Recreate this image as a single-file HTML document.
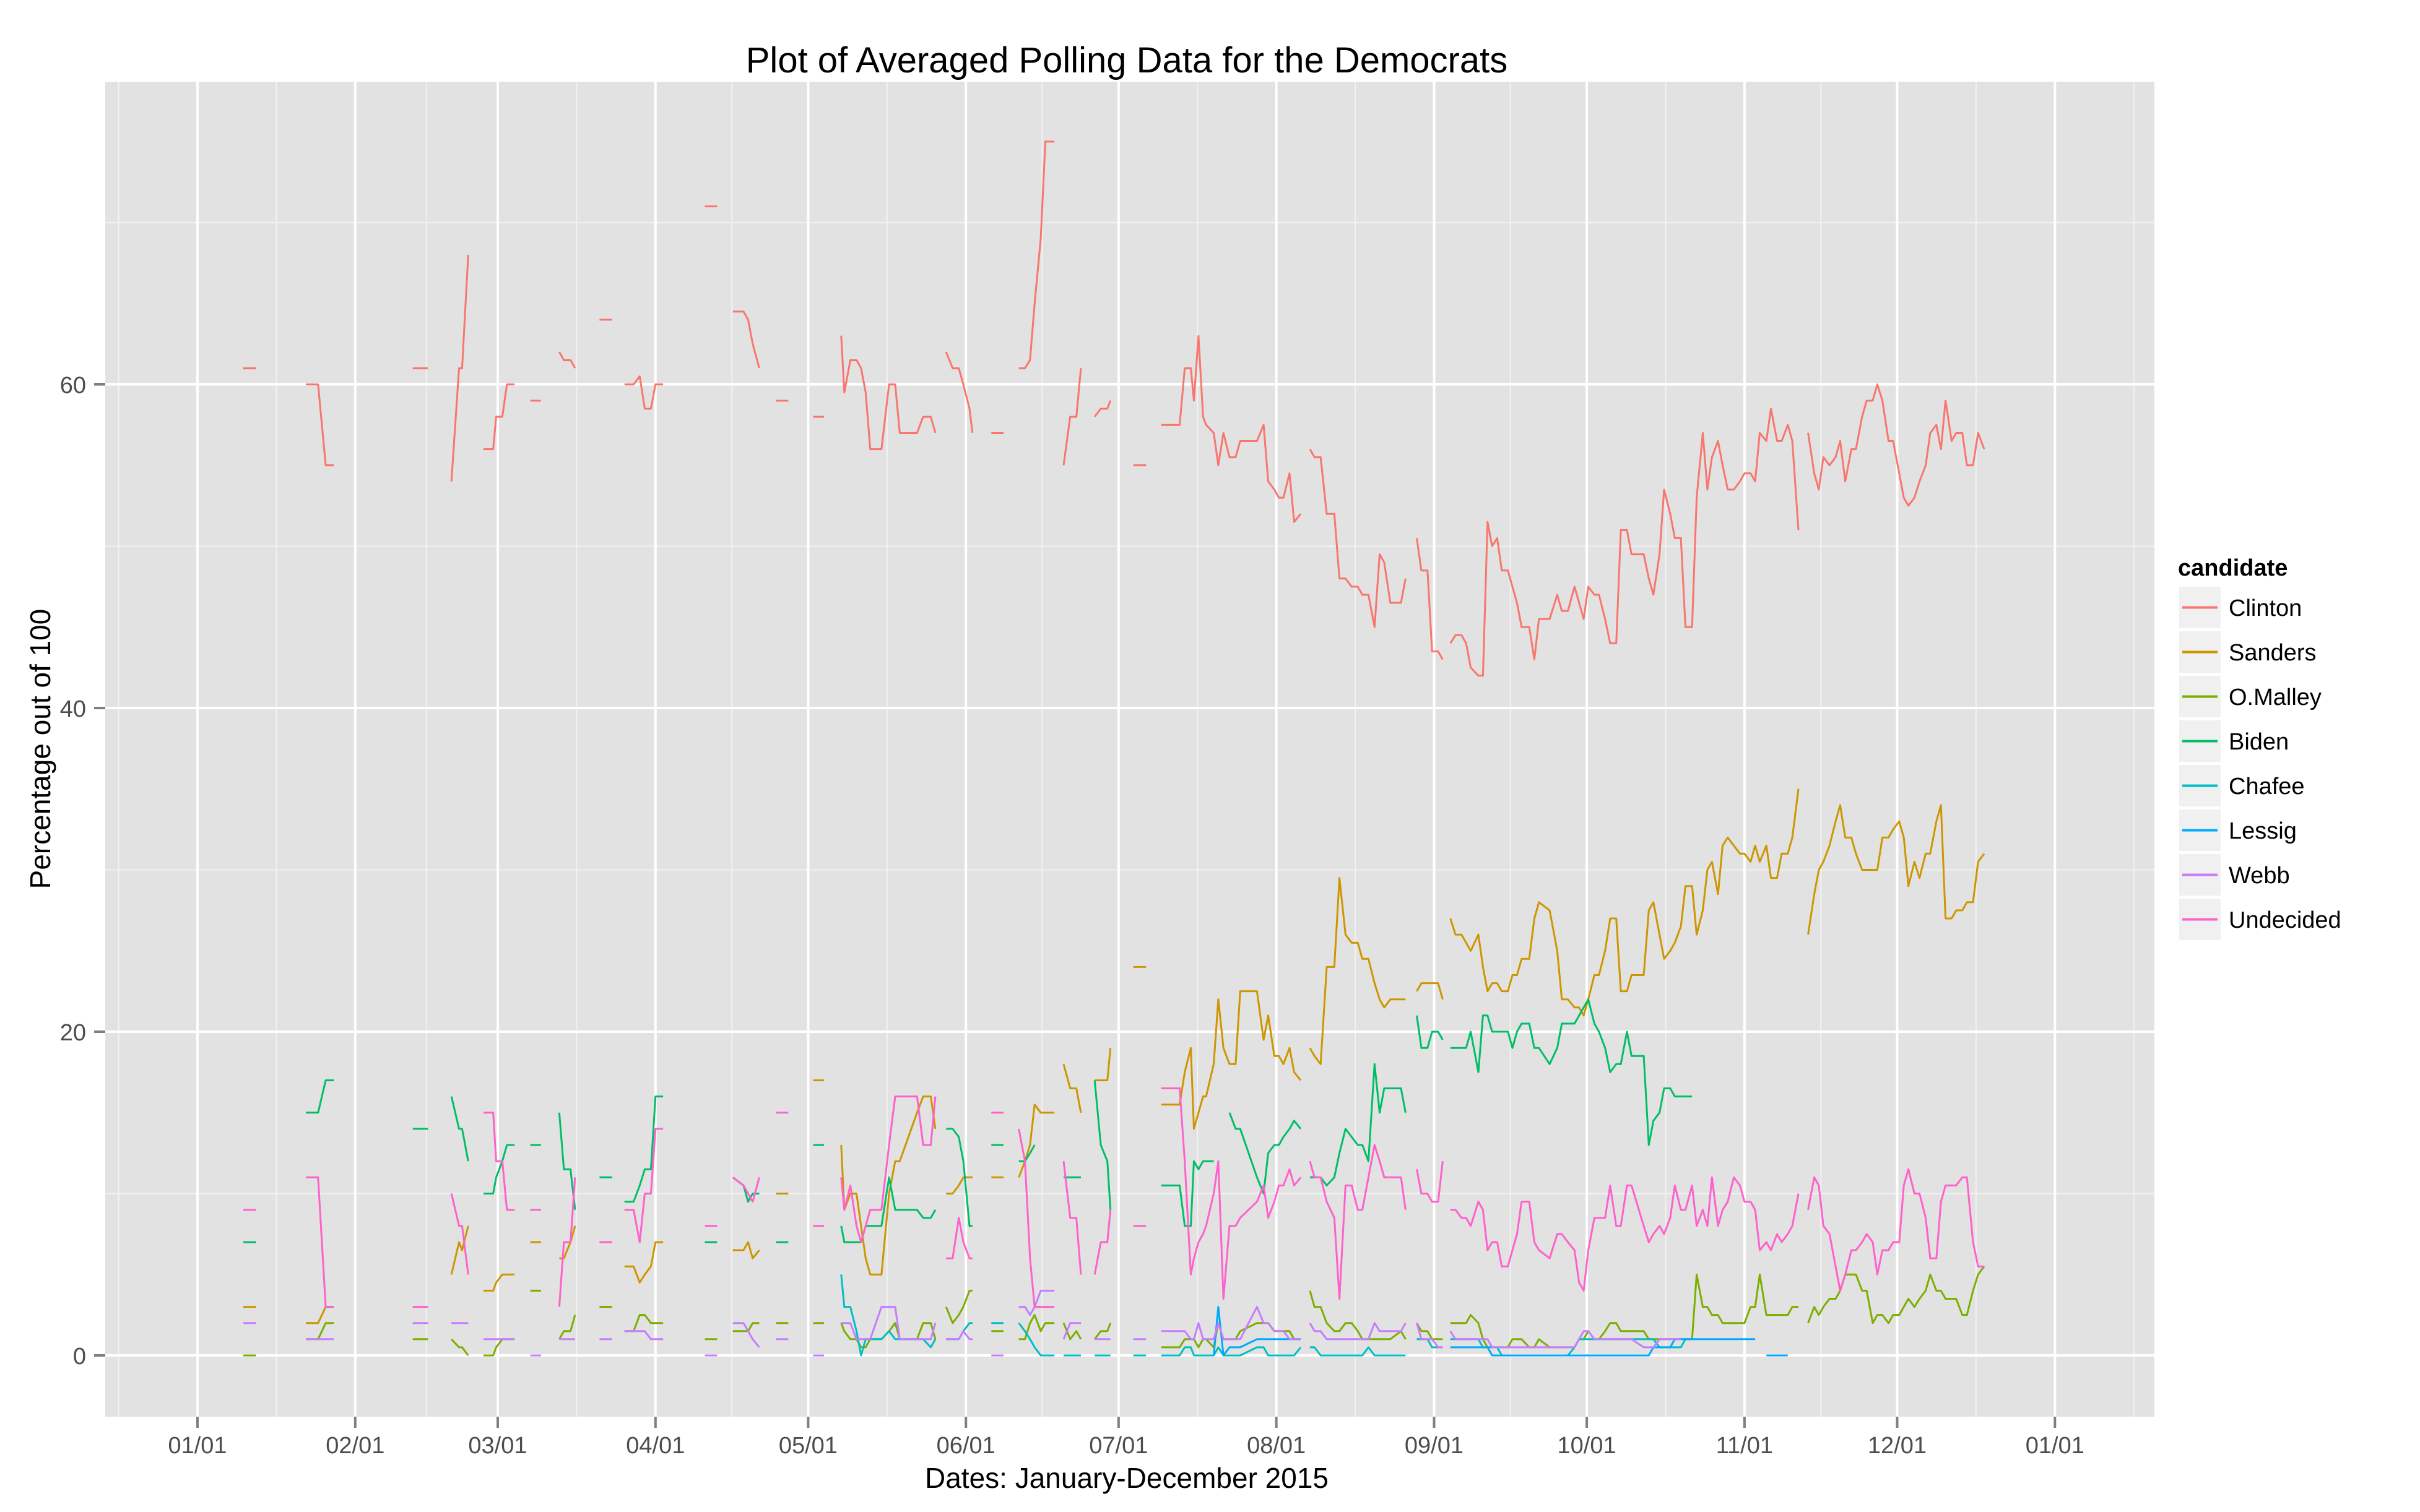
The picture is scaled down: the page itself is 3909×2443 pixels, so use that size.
<!DOCTYPE html>
<html><head><meta charset="utf-8">
<style>
html,body{margin:0;padding:0;background:#fff;}
svg{display:block;font-family:"Liberation Sans",Arial,sans-serif;}
</style></head>
<body>
<svg id="chart" width="3909" height="2443" viewBox="0 0 3909 2443" xmlns="http://www.w3.org/2000/svg">
  <rect x="0" y="0" width="3909" height="2443" fill="#ffffff"/>
  <rect x="170" y="132" width="3310" height="2157" fill="#e2e2e2"/>
  <g id="grid"></g>
  <g id="series"></g>
  <g id="axes"></g>
  <text x="1820" y="117" font-size="58" text-anchor="middle" fill="#000">Plot of Averaged Polling Data for the Democrats</text>
  <text x="1820" y="2404" font-size="46" text-anchor="middle" fill="#000">Dates: January-December 2015</text>
  <text transform="translate(81,1210) rotate(-90)" font-size="46" text-anchor="middle" fill="#000">Percentage out of 100</text>
  <g id="legend"></g>
</svg>
<script>
// ---------- data ----------
const candidates = ["Clinton","Sanders","O.Malley","Biden","Chafee","Lessig","Webb","Undecided"];
const colors = ["#F8766D","#CD9600","#7CAE00","#00BE67","#00BFC4","#00A9FF","#C77CFF","#FF61CC"];
const xTickLabels = ["01/01","02/01","03/01","04/01","05/01","06/01","07/01","08/01","09/01","10/01","11/01","12/01","01/01"];
const xTickDays = [0,31,59,90,120,151,181,212,243,273,304,334,365];
const yTicks = [0,20,40,60];
const yMinor = [10,30,50,70];

// days since 2015-01-01 (null = gap)
const earlyDays = [9,11.5,null,21.3,23.7,25.2,26.8,null,42.3,45.3,null,49.9,51.4,52,53.2,null,56.2,58.1,58.7,59.9,60.8,62.3,null,65.4,67.5,null,71.1,72,73.3,74.2,null,79,81.5,null,83.9,85.7,86.9,87.9,89.1,90,91.5,null,99.7,102.1,null,105.2,107.3,108.2,109.1,110.4,null,113.7,116.1,null,121,123.1,null,126.5,127.1,128.3,129.5,130.4,131.3,132.2,134.4,135.9,137.1,138,141.4,142.6,144.1,145,null,147.1,148.4,149.6,150.5,151.7,152.3,null,156,158.4,null,161.4,162.6,163.6,164.5,165.7,166.6,168.4,null,170.2,171.5,172.7,173.6,null,176.3,177.5,178.8,179.4,null,183.9,186.4];
const julDays = [189.4,193,194,195.2,195.8,196.7,197.6,198.2,199.7,200.6,201.6,202.8,204,204.9,208.2,209.5,210.4,211.6,212.5,213.4,214.6,215.5,216.8];
const augDays = [218.6,219.5,220.7,221.9,223.4,224.4,225.6,226.8,228,228.9,230.1,231.3,232.3,233.2,234.4,236.5,237.4];
const lateAugDays = [239.6,240.5,241.7,242.6,243.8,244.7];
const fallDays = [246.2,247.2,248.4,249.3,250.2,251.7,252.6,253.5,254.4,255.4,256.3,257.5,258.4,259.3,260.2,261.7,262.7,263.6,265.7,267.2,268.1,269.3,270.6,271.5,272.4,273.3,274.5,275.4,276.6,277.6,278.8,279.7,280.9,281.8,284.2,285.2,286.1,287.3,288.2,289.4,290.3,291.5,292.4,293.7,294.6,295.8,296.7,297.6,298.8,299.7,300.7,301.9,303.1,304,305.2,306.1,307,308.3,309.2,310.4,311.3,312.5,313.4,314.6];
const novDays = [316.5,317.7,318.6,319.5,320.7,321.9,322.8,323.8,325,325.9,327.1,328,329.2,330.1,331.1,332.3,333.2,334.4,335.3,336.2,337.4,338.4,339.6,340.5,341.7,342.6,343.5,344.7,345.6,346.8,347.7,348.9,349.9,351.1];

// Clinton
const clintonEarly = [61,61,null,60,60,55,55,null,61,61,null,54,61,61,68,null,56,56,58,58,60,60,null,59,59,null,62,61.5,61.5,61,null,64,64,null,60,60,60.5,58.5,58.5,60,60,null,71,71,null,64.5,64.5,64,62.5,61,null,59,59,null,58,58,null,63,59.5,61.5,61.5,61,59.5,56,56,60,60,57,57,58,58,57,null,62,61,61,60,58.5,57,null,57,57,null,61,61,61.5,65,69,75,75,null,55,58,58,61,null,58,58.5,58.5,59,null,55,55];
const clintonJul = [57.5,57.5,61,61,59,63,58,57.5,57,55,57,55.5,55.5,56.5,56.5,57.5,54,53.5,53,53,54.5,51.5,52];
const clintonAug = [56,55.5,55.5,52,52,48,48,47.5,47.5,47,47,45,49.5,49,46.5,46.5,48];
const clintonLateAug = [50.5,48.5,48.5,43.5,43.5,43];
const clintonFall = [44,44.5,44.5,44,42.5,42,42,51.5,50,50.5,48.5,48.5,47.5,46.5,45,45,43,45.5,45.5,47,46,46,47.5,46.5,45.5,47.5,47,47,45.5,44,44,51,51,49.5,49.5,48,47,49.5,53.5,52,50.5,50.5,45,45,53,57,53.5,55.5,56.5,55,53.5,53.5,54,54.5,54.5,54,57,56.5,58.5,56.5,56.5,57.5,56.5,51];
const clintonNov = [57,54.5,53.5,55.5,55,55.5,56.5,54,56,56,58,59,59,60,59,56.5,56.5,54.5,53,52.5,53,54,55,57,57.5,56,59,56.5,57,57,55,55,57,56];

// Sanders
const sandersEarly = [3,3,null,2,2,3,3,null,null,null,null,5,7,6.5,8,null,4,4,4.5,5,5,5,null,7,7,null,6,6,7,8,null,null,null,null,5.5,5.5,4.5,5,5.5,7,7,null,null,null,null,6.5,6.5,7,6,6.5,null,10,10,null,17,17,null,13,9,10,10,8,6,5,5,10,12,12,15,16,16,14,null,10,10,10.5,11,11,11,null,11,11,null,11,12,13,15.5,15,15,15,null,18,16.5,16.5,15,null,17,17,17,19,null,24,24];
const sandersJul = [15.5,15.5,17.5,19,14,15,16,16,18,22,19,18,18,22.5,22.5,19.5,21,18.5,18.5,18,19,17.5,17];
const sandersAug = [19,18.5,18,24,24,29.5,26,25.5,25.5,24.5,24.5,23,22,21.5,22,22,22];
const sandersLateAug = [22.5,23,23,23,23,22];
const sandersFall = [27,26,26,25.5,25,26,24,22.5,23,23,22.5,22.5,23.5,23.5,24.5,24.5,27,28,27.5,25,22,22,21.5,21.5,21,22,23.5,23.5,25,27,27,22.5,22.5,23.5,23.5,27.5,28,26,24.5,25,25.5,26.5,29,29,26,27.5,30,30.5,28.5,31.5,32,31.5,31,31,30.5,31.5,30.5,31.5,29.5,29.5,31,31,32,35];
const sandersNov = [26,28.5,30,30.5,31.5,33,34,32,32,31,30,30,30,30,32,32,32.5,33,32,29,30.5,29.5,31,31,33,34,27,27,27.5,27.5,28,28,30.5,31];

// O'Malley
const omalleyEarly = [0,0,null,1,1,2,2,null,1,1,null,1,0.5,0.5,0,null,0,0,0.5,1,1,1,null,4,4,null,1,1.5,1.5,2.5,null,3,3,null,1.5,1.5,2.5,2.5,2,2,2,null,1,1,null,1.5,1.5,1.5,2,2,null,2,2,null,2,2,null,2,1.5,1,1,0.5,0.5,1,1,1.5,2,1,1,2,2,1,null,3,2,2.5,3,4,4,null,1.5,1.5,null,1,1,2,2.5,1.5,2,2,null,2,1,1.5,1,null,1,1.5,1.5,2,null,null,null];
const omalleyJul = [0.5,0.5,1,1,1,0.5,1,1,0.5,2,1,1,1,1.5,2,2,2,1.5,1.5,1.5,1.5,1,1];
const omalleyAug = [4,3,3,2,1.5,1.5,2,2,1.5,1,1,1,1,1,1,1.5,1];
const omalleyLateAug = [2,1.5,1.5,1,1,1];
const omalleyFall = [2,2,2,2,2.5,2,1,0.5,0.5,0.5,0.5,0.5,1,1,1,0.5,0.5,1,0.5,0.5,0.5,0.5,0.5,1,1,1.5,1,1,1.5,2,2,1.5,1.5,1.5,1.5,1,1,1,1,1,1,1,1,1,5,3,3,2.5,2.5,2,2,2,2,2,3,3,5,2.5,2.5,2.5,2.5,2.5,3,3];
const omalleyNov = [2,3,2.5,3,3.5,3.5,4,5,5,5,4,4,2,2.5,2.5,2,2.5,2.5,3,3.5,3,3.5,4,5,4,4,3.5,3.5,3.5,2.5,2.5,4,5,5.5];

// Biden
const bidenEarly = [7,7,null,15,15,17,17,null,14,14,null,16,14,14,12,null,10,10,11,12,13,13,null,13,13,null,15,11.5,11.5,9,null,11,11,null,9.5,9.5,10.5,11.5,11.5,16,16,null,7,7,null,11,10.5,9.5,10,10,null,7,7,null,13,13,null,8,7,7,7,7,8,8,8,11,9,9,9,8.5,8.5,9,null,14,14,13.5,12,8,8,null,13,13,null,12,12,12.5,13,null,null,null,null,11,11,11,11,null,17,13,12,9,null,null,null];
const bidenJul = [10.5,10.5,8,8,12,11.5,12,12,12,null,null,15,14,14,11,10,12.5,13,13,13.5,14,14.5,14];
const bidenAug = [11,11,11,10.5,11,12.5,14,13.5,13,13,12,18,15,16.5,16.5,16.5,15];
const bidenLateAug = [21,19,19,20,20,19.5];
const bidenFall = [19,19,19,19,20,17.5,21,21,20,20,20,20,19,20,20.5,20.5,19,19,18,19,20.5,20.5,20.5,21,21.5,22,20.5,20,19,17.5,18,18,20,18.5,18.5,13,14.5,15,16.5,16.5,16,16,16,16,null,null,null,null,null,null,null,null,null,null,null,null,null,null,null,null,null,null,null,null];
const bidenNov = null;

// Chafee
const chafeeEarly = [null,null,null,null,null,null,null,null,null,null,null,null,null,null,null,null,null,null,null,null,null,null,null,null,null,null,null,null,null,null,null,null,null,null,null,null,null,null,null,null,null,null,null,null,null,null,null,null,null,null,null,null,null,null,null,null,null,5,3,3,1.5,0,1,1,1,1.5,1,1,1,1,0.5,1,null,1,1,1,1.5,2,2,null,2,2,null,2,1.5,1,0.5,0,0,0,null,0,0,0,0,null,0,0,0,0,null,0,0];
const chafeeJul = [0,0,0.5,0.5,0,0,0,0,0,0.5,0,0,0,0,0.5,0.5,0,0,0,0,0,0,0.5];
const chafeeAug = [0.5,0.5,0,0,0,0,0,0,0,0,0.5,0,0,0,0,0,0];
const chafeeLateAug = [1,1,1,0.5,0.5,0.5];
const chafeeFall = [1,1,1,1,1,1,0.5,0.5,0.5,0.5,0,0,0,0,0,0,0,0,0,0,0,0,0.5,1,1,1,1,1,1,1,1,1,1,1,1,1,1,0.5,0.5,0.5,0.5,0.5,1,1,null,null,null,null,null,null,null,null,null,null,null,null,null,null,null,null,null,null,null,null];
const chafeeNov = null;

// Lessig
const lessigEarly = null;
const lessigJul = [null,null,null,null,null,null,null,null,0,3,0,0.5,0.5,0.5,1,1,1,1,1,1,1,1,1];
const lessigAug = null;
const lessigLateAug = null;
const lessigFall = [0.5,0.5,0.5,0.5,0.5,0.5,0.5,0.5,0,0,0,0,0,0,0,0,0,0,0,0,0,0,0,0,0,0,0,0,0,0,0,0,0,0,0,0,0.5,0.5,0.5,0.5,1,1,1,1,1,1,1,1,1,1,1,1,1,1,1,1,null,0,0,0,0,0,null,null];
const lessigNov = null;

// Webb
const webbEarly = [2,2,null,1,1,1,1,null,2,2,null,2,2,2,2,null,1,1,1,1,1,1,null,0,0,null,1,1,1,1,null,1,1,null,1.5,1.5,1.5,1.5,1,1,1,null,0,0,null,2,2,1.5,1,0.5,null,1,1,null,0,0,null,2,2,2,1,1,1,1,3,3,3,1,1,1,1,2,null,1,1,1,1.5,1,1,null,0,0,null,3,3,2.5,3,4,4,4,null,1,2,2,2,null,1,1,1,1,null,1,1];
const webbJul = [1.5,1.5,1.5,1,1,2,1,1,1,2,1,1,1,1,3,2,2,1.5,1.5,1.5,1,1,1];
const webbAug = [2,1.5,1.5,1,1,1,1,1,1,1,1,2,1.5,1.5,1.5,1.5,2];
const webbLateAug = [2,1,1,1,0.5,0.5];
const webbFall = [1.5,1,1,1,1,1,1,1,0.5,0.5,0.5,0.5,0.5,0.5,0.5,0.5,0.5,0.5,0.5,0.5,0.5,0.5,0.5,1,1.5,1.5,1,1,1,1,1,1,1,1,0.5,0.5,0.5,1,1,1,1,1,null,null,null,null,null,null,null,null,null,null,null,null,null,null,null,null,null,null,null,null,null,null];
const webbNov = null;

// Undecided
const undecidedEarly = [9,9,null,11,11,3,3,null,3,3,null,10,8,8,5,null,15,15,12,12,9,9,null,9,9,null,3,7,7,11,null,7,7,null,9,9,7,10,10,14,14,null,8,8,null,11,10.5,10,9.5,11,null,15,15,null,8,8,null,11,9,10.5,8,7,8,9,9,13,16,16,16,13,13,16,null,6,6,8.5,7,6,6,null,15,15,null,14,12,6,3,3,3,3,null,12,8.5,8.5,5,null,5,7,7,9,null,8,8];
const undecidedJul = [16.5,16.5,12,5,6,7,7.5,8,10,12,3.5,8,8,8.5,9.5,10.5,8.5,9.5,10.5,10.5,11.5,10.5,11];
const undecidedAug = [12,11,11,9.5,8.5,3.5,10.5,10.5,9,9,11,13,12,11,11,11,9];
const undecidedLateAug = [11.5,10,10,9.5,9.5,12];
const undecidedFall = [9,9,8.5,8.5,8,9.5,9,6.5,7,7,5.5,5.5,6.5,7.5,9.5,9.5,7,6.5,6,7.5,7.5,7,6.5,4.5,4,6.5,8.5,8.5,8.5,10.5,8,8,10.5,10.5,8,7,7.5,8,7.5,8.5,10.5,9,9,10.5,8,9,8,11,8,9,9.5,11,10.5,9.5,9.5,9,6.5,7,6.5,7.5,7,7.5,8,10];
const undecidedNov = [9,11,10.5,8,7.5,5.5,4,5,6.5,6.5,7,7.5,7,5,6.5,6.5,7,7,10.5,11.5,10,10,8.5,6,6,9.5,10.5,10.5,10.5,11,11,7,5.5,5.5];

const dayGroups = [earlyDays, julDays, augDays, lateAugDays, fallDays, novDays];
const seriesGroups = [
  [clintonEarly, clintonJul, clintonAug, clintonLateAug, clintonFall, clintonNov],
  [sandersEarly, sandersJul, sandersAug, sandersLateAug, sandersFall, sandersNov],
  [omalleyEarly, omalleyJul, omalleyAug, omalleyLateAug, omalleyFall, omalleyNov],
  [bidenEarly, bidenJul, bidenAug, bidenLateAug, bidenFall, bidenNov],
  [chafeeEarly, chafeeJul, chafeeAug, chafeeLateAug, chafeeFall, chafeeNov],
  [lessigEarly, lessigJul, lessigAug, lessigLateAug, lessigFall, lessigNov],
  [webbEarly, webbJul, webbAug, webbLateAug, webbFall, webbNov],
  [undecidedEarly, undecidedJul, undecidedAug, undecidedLateAug, undecidedFall, undecidedNov]
];

// ---------- scales ----------
const NS = "http://www.w3.org/2000/svg";
const PL = 170, PR = 3480, PT = 132, PB = 2289;
function xScale(day){ return 319 + day * 8.22; }
function yScale(v){ return 2190 - v * 26.15; }
function mk(tag, attrs, parent){
  const e = document.createElementNS(NS, tag);
  for (const k in attrs) e.setAttribute(k, attrs[k]);
  parent.appendChild(e);
  return e;
}

// ---------- grid ----------
const grid = document.getElementById("grid");
const monthStarts = [-31].concat(xTickDays, [396]);
for (let i = 0; i < monthStarts.length - 1; i++) {
  const mx = (xScale(monthStarts[i]) + xScale(monthStarts[i+1])) / 2;
  if (mx > PL && mx < PR) {
    const l = mk("line", {x1: mx, x2: mx, y1: PT, y2: PB, stroke: "#f2f2f2", "stroke-width": 2}, grid);
    
    
  }
}
yMinor.forEach(function(v){
  const y = yScale(v);
  if (y > PT && y < PB) {
    const l = mk("line", {x1: PL, x2: PR, y1: y, y2: y, stroke: "#f2f2f2", "stroke-width": 2}, grid);
    
    
  }
});
xTickDays.forEach(function(d){
  const x = xScale(d);
  const l = mk("line", {x1: x, x2: x, y1: PT, y2: PB, stroke: "#ffffff", "stroke-width": 4}, grid);
  
  
});
yTicks.forEach(function(v){
  const y = yScale(v);
  const l = mk("line", {x1: PL, x2: PR, y1: y, y2: y, stroke: "#ffffff", "stroke-width": 4}, grid);
  
  
});

// ---------- series ----------
const seriesG = document.getElementById("series");
seriesGroups.forEach(function(groups, si){
  let d = "";
  groups.forEach(function(vals, gi){
    if (!vals) return;
    const days = dayGroups[gi];
    let pen = false;
    for (let i = 0; i < days.length; i++) {
      const dd = days[i], vv = vals[i];
      if (dd === null || vv === null || vv === undefined) { pen = false; continue; }
      d += (pen ? "L" : "M") + xScale(dd).toFixed(1) + " " + yScale(vv).toFixed(1);
      pen = true;
    }
  });
  const p = mk("path", {d: d, fill: "none", stroke: colors[si], "stroke-width": 3, "stroke-linejoin": "round"}, seriesG);
  
  
});

// ---------- axes ----------
const axes = document.getElementById("axes");
xTickDays.forEach(function(d, i){
  const x = xScale(d);
  const t = mk("line", {x1: x, x2: x, y1: PB, y2: PB + 18, stroke: "#7f7f7f", "stroke-width": 4}, axes);
  
  
  const lb = mk("text", {x: x, y: 2348, "font-size": 38, "text-anchor": "middle", fill: "#4d4d4d"}, axes);
  lb.textContent = xTickLabels[i];
  
  
});
yTicks.forEach(function(v){
  const y = yScale(v);
  const t = mk("line", {x1: PL - 18, x2: PL, y1: y, y2: y, stroke: "#7f7f7f", "stroke-width": 4}, axes);
  
  
  const lb = mk("text", {x: 139, y: y + 14, "font-size": 38, "text-anchor": "end", fill: "#4d4d4d"}, axes);
  lb.textContent = String(v);
  
  
});

// ---------- legend ----------
const legend = document.getElementById("legend");
const lt = mk("text", {x: 3518, y: 930, "font-size": 38, "font-weight": "bold", fill: "#000"}, legend);
lt.textContent = "candidate";


candidates.forEach(function(name, i){
  const top = 948 + i * 72;
  const g = mk("g", {}, legend);
  
  
  mk("rect", {x: 3520, y: top, width: 67, height: 67, fill: "#f0f0f0"}, g);
  mk("line", {x1: 3525, x2: 3582, y1: top + 33.5, y2: top + 33.5, stroke: colors[i], "stroke-width": 4}, g);
  const tx = mk("text", {x: 3600, y: top + 47, "font-size": 38, fill: "#000"}, g);
  tx.textContent = name;
});
</script>
</body></html>
